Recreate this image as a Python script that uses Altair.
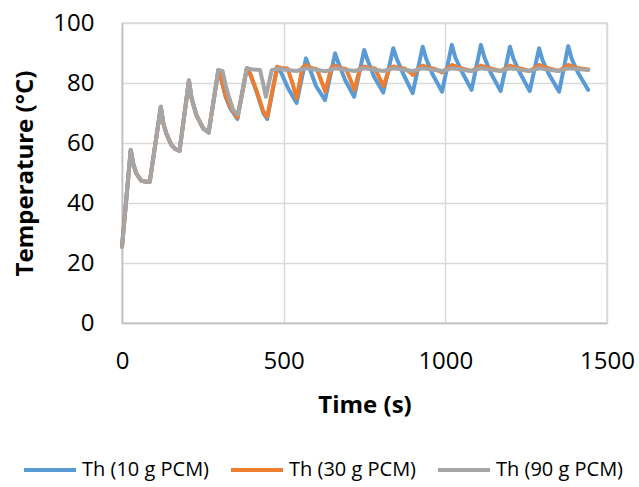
import altair as alt
import pandas as pd

# Shared start (all three series coincide)
t_start = [0, 27, 35, 44, 60, 75, 86, 120, 128, 137, 153, 165, 178, 207, 215, 230, 251, 268, 298]
v_start = [25.4, 57.7, 53.0, 49.9, 47.4, 47.1, 47.1, 72.1, 66.5, 63.2, 59.3, 58.0, 57.4, 80.8, 75.0, 69.3, 64.9, 63.5, 84.3]

# Th (10 g PCM)
t_10 = [305, 320, 335, 357, 386, 396, 417, 437, 449, 480,
        492, 514, 540, 569, 580, 600, 628, 659, 670, 690, 718, 749, 760, 780, 808,
        839, 850, 870, 899, 930, 941, 960, 990, 1020, 1031, 1050, 1081, 1110, 1121,
        1140, 1171, 1200, 1211, 1230, 1261, 1290, 1301, 1320, 1352, 1380, 1391, 1410, 1442]
v_10 = [82.0, 75.5, 71.5, 68.0, 84.9, 83.0, 76.8, 70.0, 68.0, 85.4,
        83.5, 78.2, 73.3, 88.2, 85.0, 79.0, 74.3, 89.9, 86.5, 81.0, 75.4, 91.0, 87.5, 82.0, 76.8,
        91.6, 88.0, 83.0, 76.6, 92.1, 88.0, 83.0, 77.1, 92.7, 88.5, 84.0, 77.7, 92.7, 88.5,
        83.5, 77.3, 92.1, 88.0, 83.5, 77.3, 91.6, 87.5, 83.0, 77.1, 92.3, 88.0, 83.5, 77.7]

# Th (30 g PCM)
t_30 = [305, 320, 335, 357, 386, 396, 417, 437, 449, 480,
        492, 512, 527, 540, 550, 557, 569, 585, 603, 617, 629, 640, 647, 659,
        675, 693, 707, 719, 730, 737, 749, 765, 783, 797, 809, 820, 827, 839,
        855, 874, 888, 900, 911, 918, 930, 945, 964, 978, 990, 1005, 1020,
        1040, 1060, 1080, 1095, 1110, 1130, 1150, 1170, 1185, 1200, 1220, 1240, 1260,
        1275, 1290, 1310, 1330, 1350, 1365, 1380, 1400, 1420, 1442]
v_30 = [82.3, 76.0, 72.0, 68.5, 84.9, 83.3, 77.2, 70.5, 68.7, 85.4,
        85.0, 84.8, 80.0, 74.9, 80.5, 85.0, 86.0, 85.0, 84.6, 80.5, 77.1, 82.0, 85.0, 85.8,
        85.0, 84.7, 81.0, 77.7, 82.5, 85.0, 85.5, 85.0, 84.8, 81.5, 79.0, 82.5, 85.0, 85.5,
        85.0, 84.8, 83.8, 82.7, 84.0, 85.0, 85.8, 85.2, 84.8, 84.2, 83.5, 84.8, 86.0,
        85.2, 84.6, 84.0, 84.8, 85.8, 85.1, 84.6, 84.0, 84.8, 85.8, 85.1, 84.6, 84.0,
        84.9, 86.0, 85.2, 84.6, 84.0, 84.9, 86.0, 85.3, 84.8, 84.5]

# Th (90 g PCM)
t_90 = [311, 320, 329, 344, 359, 386, 400, 427, 436, 445, 463, 480,
        500, 540, 569, 629, 659, 719, 749, 809, 839, 900, 930, 990, 1020,
        1080, 1110, 1170, 1200, 1260, 1290, 1350, 1380, 1442]
v_90 = [84.0, 79.5, 76.0, 71.0, 69.5, 84.9, 84.6, 84.3, 80.0, 75.4, 84.3, 84.8,
        84.5, 84.0, 84.9, 83.9, 84.9, 84.0, 84.9, 84.0, 84.9, 84.0, 84.9, 84.0, 84.9,
        84.0, 84.9, 84.0, 84.9, 84.0, 84.9, 84.0, 84.9, 84.3]

names = ["Th (10 g PCM)", "Th (30 g PCM)", "Th (90 g PCM)"]
colors = ["#5B9BD5", "#ED7D31", "#A5A5A5"]

rows = []
for i, (tt, vv) in enumerate([(t_10, v_10), (t_30, v_30), (t_90, v_90)]):
    n = 0
    for t, v in zip(t_start + tt, v_start + vv):
        rows.append({"series": names[i], "order": i, "t": t, "v": v, "idx": n})
        n += 1
df = pd.DataFrame(rows)

FONT = "Open Sans"

chart = alt.Chart(df).mark_line(strokeWidth=4, strokeJoin="round", strokeCap="round").encode(
    x=alt.X("t:Q", scale=alt.Scale(domain=[0, 1500], nice=False),
            axis=alt.Axis(values=[0, 500, 1000, 1500], format="d", title="Time (s)", grid=True,
                          ticks=False, tickSize=0, labelPadding=26, labelFontSize=24,
                          labelFlush=False, labelOverlap=False,
                          labelFont=FONT, labelColor="#000000",
                          titleFont=FONT, titleFontSize=24, titleFontWeight="bold",
                          titleColor="#000000", titleBaseline="top", titleY=70,
                          gridColor="#D9D9D9", gridWidth=1.5,
                          domainColor="#BFBFBF", domainWidth=1.5)),
    y=alt.Y("v:Q", scale=alt.Scale(domain=[0, 100], nice=False),
            axis=alt.Axis(values=[0, 20, 40, 60, 80, 100], title="Temperature (°C)",
                          grid=True, ticks=False, tickSize=0, labelPadding=28,
                          labelFontSize=24, labelFont=FONT, labelColor="#000000",
                          labelFlush=False, labelOverlap=False,
                          titleFont=FONT, titleFontSize=24, titleFontWeight="bold",
                          titleColor="#000000", titleAngle=270, titleBaseline="top",
                          titleAlign="center", titleX=-109, titleY=150,
                          gridColor="#D9D9D9", gridWidth=1.5,
                          domainColor="#BFBFBF", domainWidth=1.5)),
    color=alt.Color("series:N", scale=alt.Scale(domain=names, range=colors),
                    legend=alt.Legend(title=None, orient="none", direction="horizontal",
                                      legendX=-100, legendY=419, columns=3,
                                      symbolType="stroke", symbolSize=2700,
                                      symbolStrokeWidth=4, labelFont=FONT,
                                      labelFontSize=20, labelColor="#000000",
                                      labelOffset=4, columnPadding=13, labelLimit=300)),
    order=alt.Order("idx:Q"),
    detail="series:N",
).properties(
    width=485, height=300,
    autosize=alt.AutoSizeParams(type="none"),
    padding={"left": 122, "top": 23, "right": 32, "bottom": 164},
).configure_view(stroke="#D9D9D9", strokeWidth=1.5)

chart.save("out.html", embed_options={"renderer": "svg", "actions": False})
